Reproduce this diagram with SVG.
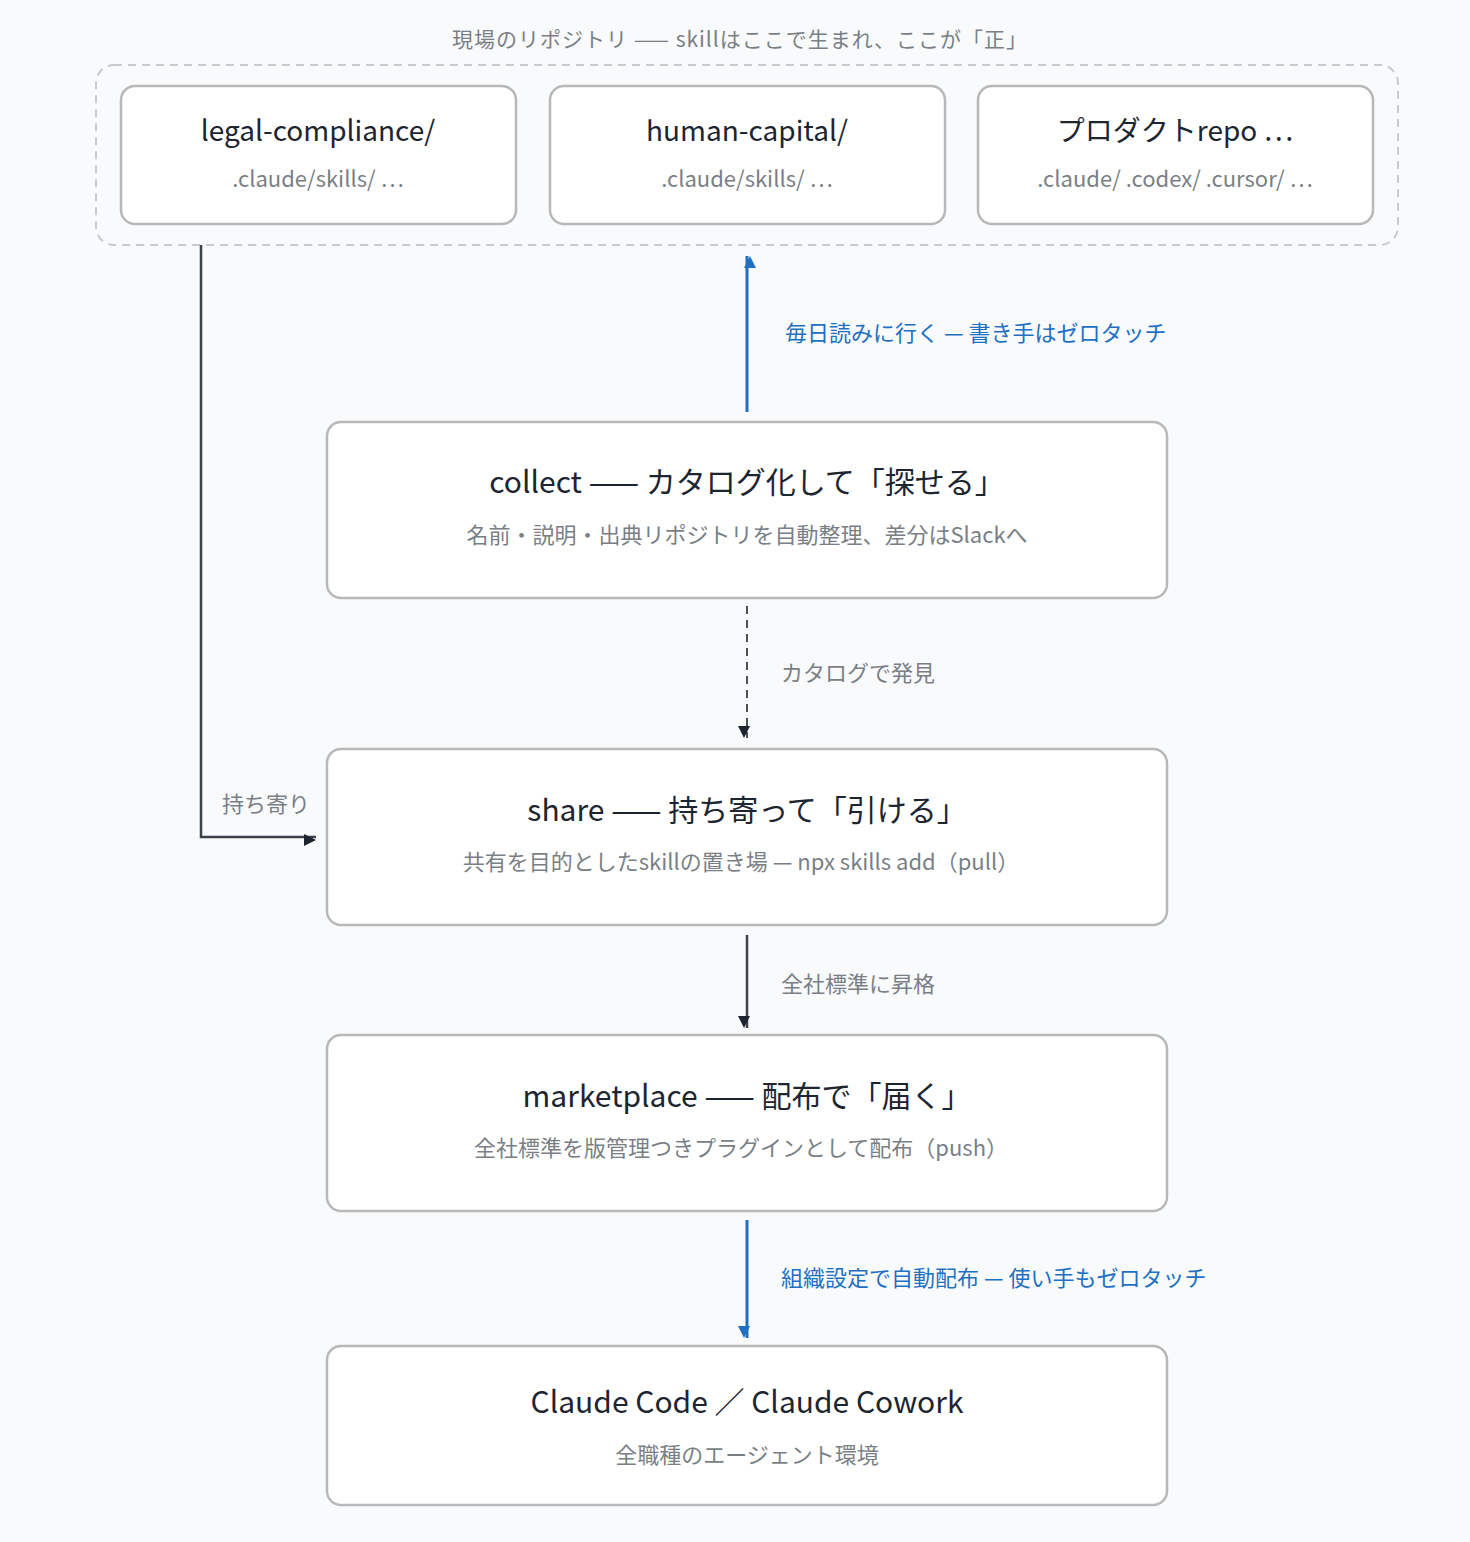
<svg xmlns="http://www.w3.org/2000/svg" width="1470" height="1542" viewBox="0 0 1470 1542">
<style>
.box{fill:#fff;stroke:#b8b8b8;stroke-width:2.5}
.t{font-family:"Noto Sans CJK JP","Noto Sans",sans-serif;text-anchor:middle;fill:#1d2530}
.s{font-family:"Noto Sans CJK JP","Noto Sans",sans-serif;text-anchor:middle;fill:#7a7f86}
.lbl{font-family:"Noto Sans CJK JP","Noto Sans",sans-serif;fill:#7a7f86;font-size:22px}
.blue{font-family:"Noto Sans CJK JP","Noto Sans",sans-serif;fill:#1f70c1;font-size:22px}
</style>
<defs>
<marker id="ad" viewBox="0 0 10 10" refX="10" refY="5" markerWidth="6" markerHeight="6" markerUnits="userSpaceOnUse" orient="auto" style="overflow:visible"><path d="M0,0L10,5L0,10z" fill="#1d2530" transform="scale(2)translate(-5,0)"/></marker>
<marker id="ab" viewBox="0 0 10 10" refX="10" refY="5" markerWidth="6" markerHeight="6" markerUnits="userSpaceOnUse" orient="auto" style="overflow:visible"><path d="M0,0L10,5L0,10z" fill="#1f70c1" transform="scale(2)translate(-5,0)"/></marker>
</defs>
<rect width="1470" height="1542" fill="#f8fafc"/>
<g id="repos">
<rect x="96" y="65" width="1302" height="180" rx="18" fill="none" stroke="#c8cacd" stroke-width="2" stroke-dasharray="8 6"/>
<text class="s" x="740" y="47" font-size="21" letter-spacing="1">現場のリポジトリ —— skillはここで生まれ、ここが「正」</text>
</g>
<g id="legal"><rect class="box" x="121" y="86" width="395" height="138" rx="14"/>
<text class="t" x="318" y="141" font-size="28">legal-compliance/</text>
<text class="s" x="318" y="187" font-size="22">.claude/skills/ …</text></g>
<g id="human"><rect class="box" x="550" y="86" width="395" height="138" rx="14"/>
<text class="t" x="747" y="141" font-size="28">human-capital/</text>
<text class="s" x="747" y="187" font-size="22">.claude/skills/ …</text></g>
<g id="product"><rect class="box" x="978" y="86" width="395" height="138" rx="14"/>
<text class="t" x="1175" y="141" font-size="28">プロダクトrepo …</text>
<text class="s" x="1175" y="187" font-size="22">.claude/ .codex/ .cursor/ …</text></g>
<g id="collect"><rect class="box" x="327" y="422" width="840" height="176" rx="14"/>
<text class="t" x="747" y="493" font-size="30">collect —— カタログ化して「探せる」</text>
<text class="s" x="747" y="543" font-size="22">名前・説明・出典リポジトリを自動整理、差分はSlackへ</text></g>
<g id="share"><rect class="box" x="327" y="749" width="840" height="176" rx="14"/>
<text class="t" x="747" y="821" font-size="30">share —— 持ち寄って「引ける」</text>
<text class="s" x="741" y="870" font-size="22">共有を目的としたskillの置き場 — npx skills add（pull）</text></g>
<g id="marketplace"><rect class="box" x="327" y="1035" width="840" height="176" rx="14"/>
<text class="t" x="747" y="1107" font-size="30">marketplace —— 配布で「届く」</text>
<text class="s" x="741" y="1156" font-size="22">全社標準を版管理つきプラグインとして配布（push）</text></g>
<g id="claude"><rect class="box" x="327" y="1346" width="840" height="159" rx="14"/>
<text class="t" x="747" y="1413" font-size="30">Claude Code ／ Claude Cowork</text>
<text class="s" x="747" y="1463" font-size="22">全職種のエージェント環境</text></g>
<g id="connectors" fill="none">
<path d="M747,412V256" stroke="#1f70c1" stroke-width="3" marker-end="url(#ab)"/>
<path d="M747,606V738" stroke="#4a5058" stroke-width="2" stroke-dasharray="8 6" marker-end="url(#ad)"/>
<path d="M747,935V1028" stroke="#3b4249" stroke-width="2.5" marker-end="url(#ad)"/>
<path d="M747,1220V1338" stroke="#1f70c1" stroke-width="3" marker-end="url(#ab)"/>
<path d="M201,245V837H316" stroke="#3b4249" stroke-width="2.5" marker-end="url(#ad)"/>
<text class="blue" x="785" y="341">毎日読みに行く — 書き手はゼロタッチ</text>
<text class="lbl" x="781" y="681">カタログで発見</text>
<text class="lbl" x="781" y="992">全社標準に昇格</text>
<text class="blue" x="781" y="1286">組織設定で自動配布 — 使い手もゼロタッチ</text>
<text class="lbl" x="222" y="812">持ち寄り</text>
</g>
</svg>
